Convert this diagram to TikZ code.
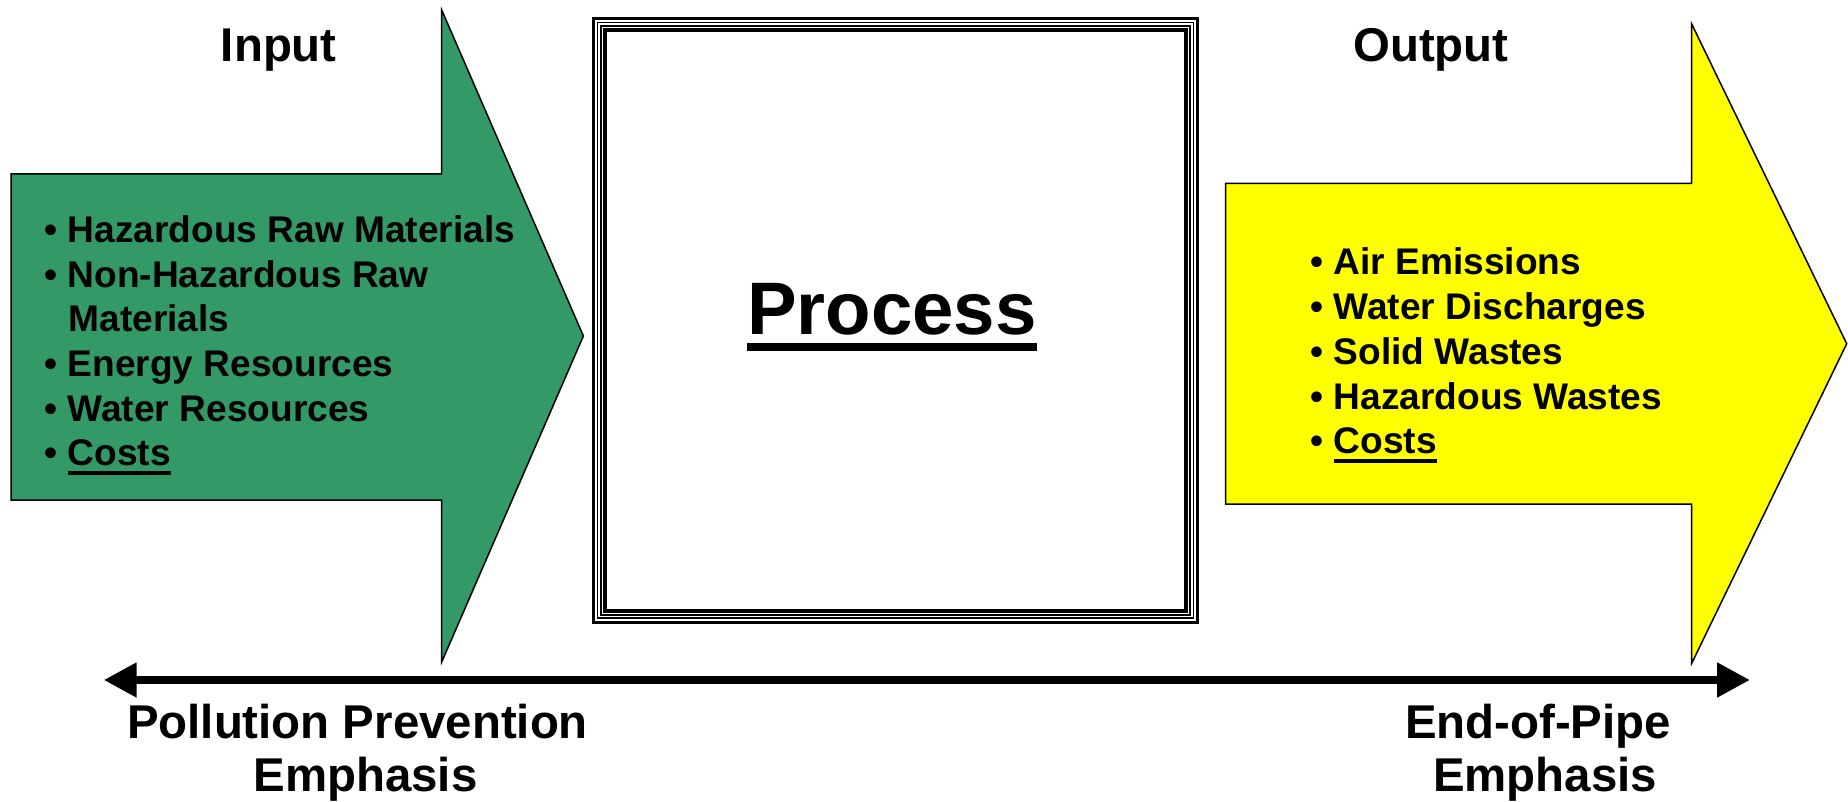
\documentclass[tikz,border=0pt]{standalone}
\usepackage{fontspec}
\setmainfont{Liberation Sans}
\usetikzlibrary{arrows.meta}
\definecolor{pgreen}{RGB}{51,153,102}
\definecolor{pyellow}{RGB}{255,255,0}
\newcommand\myul[3]{\setbox0\hbox{#3}\rlap{\rule[-#1]{\wd0}{#2}}\box0}
\begin{document}
\begin{tikzpicture}[x=0.5pt,y=-0.5pt,
  bigarrow/.style={draw=black,line width=0.75pt,line join=miter},
  listtxt/.style={anchor=base west,inner sep=0pt,font=\bfseries\fontsize{18.55}{22}\selectfont},
  heading/.style={anchor=base,inner sep=0pt,font=\bfseries\fontsize{23.7}{28}\selectfont},
  tipstyle/.style={line width=4pt,{Triangle[length=16.5pt,width=16.5pt]}-{Triangle[length=16.5pt,width=16.5pt]}}]
\useasboundingbox (0,0) rectangle (1848,802);
\fill[white] (0,0) rectangle (1848,802);

% input arrow
\path[bigarrow,fill=pgreen] (11,174) -- (441.7,174) -- (441.7,10) -- (583.4,336) -- (441.7,662) -- (441.7,500) -- (11,500) -- cycle;
% output arrow
\path[bigarrow,fill=pyellow] (1225.6,183.3) -- (1691.7,183.3) -- (1691.7,24) -- (1846.7,343.7) -- (1691.7,663.3) -- (1691.7,504) -- (1225.6,504) -- cycle;

% process box
\fill[white] (591.7,16.7) rectangle (1199.3,624);
\draw[line width=1.65pt] (593.35,18.35) rectangle (1197.65,622.35);
\draw[line width=0.85pt] (597.55,22.55) rectangle (1193.45,618.15);
\draw[line width=0.85pt] (600.85,25.85) rectangle (1190.15,614.85);
\draw[line width=2pt] (604.7,29.7) rectangle (1186.3,611);
\node[anchor=base,inner sep=0pt,font=\bfseries\fontsize{37.2}{44}\selectfont] (proc) at (892,335) {\myul{7.85pt}{3.7pt}{Process}};

% titles
\node[heading] (inp) at (278.8,61.7) {Input};
\node[heading] (outp) at (1430.8,61.7) {Output};

% input list
\node[listtxt] (i1) at (44,242.7) {• Hazardous Raw Materials};
\node[listtxt] (i2) at (44,287.3) {• Non-Hazardous Raw};
\node[listtxt] (i3) at (68.1,331.7) {Materials};
\node[listtxt] (i4) at (44,376.7) {• Energy Resources};
\node[listtxt] (i5) at (44,421.7) {• Water Resources};
\node[listtxt] (i6) at (44,465) {• \myul{5pt}{2pt}{Costs}};

% output list
\node[listtxt] (o1) at (1310,275) {• Air Emissions};
\node[listtxt] (o2) at (1310,320) {• Water Discharges};
\node[listtxt] (o3) at (1310,364.5) {• Solid Wastes};
\node[listtxt] (o4) at (1310,409) {• Hazardous Wastes};
\node[listtxt] (o5) at (1310,453.3) {• \myul{5pt}{2pt}{Costs}};

% bottom double arrow
\coordinate (pl) at (103.7,680);
\coordinate (pr) at (1750,680);
\draw[tipstyle] (pl) -- (pr);

\node[heading] (pp1) at (357.5,738.3) {Pollution Prevention};
\node[heading] (pp2) at (365.5,791.5) {Emphasis};
\node[heading] (ep1) at (1538,738.3) {End-of-Pipe};
\node[heading] (ep2) at (1545,791.5) {Emphasis};
\end{tikzpicture}
\end{document}
